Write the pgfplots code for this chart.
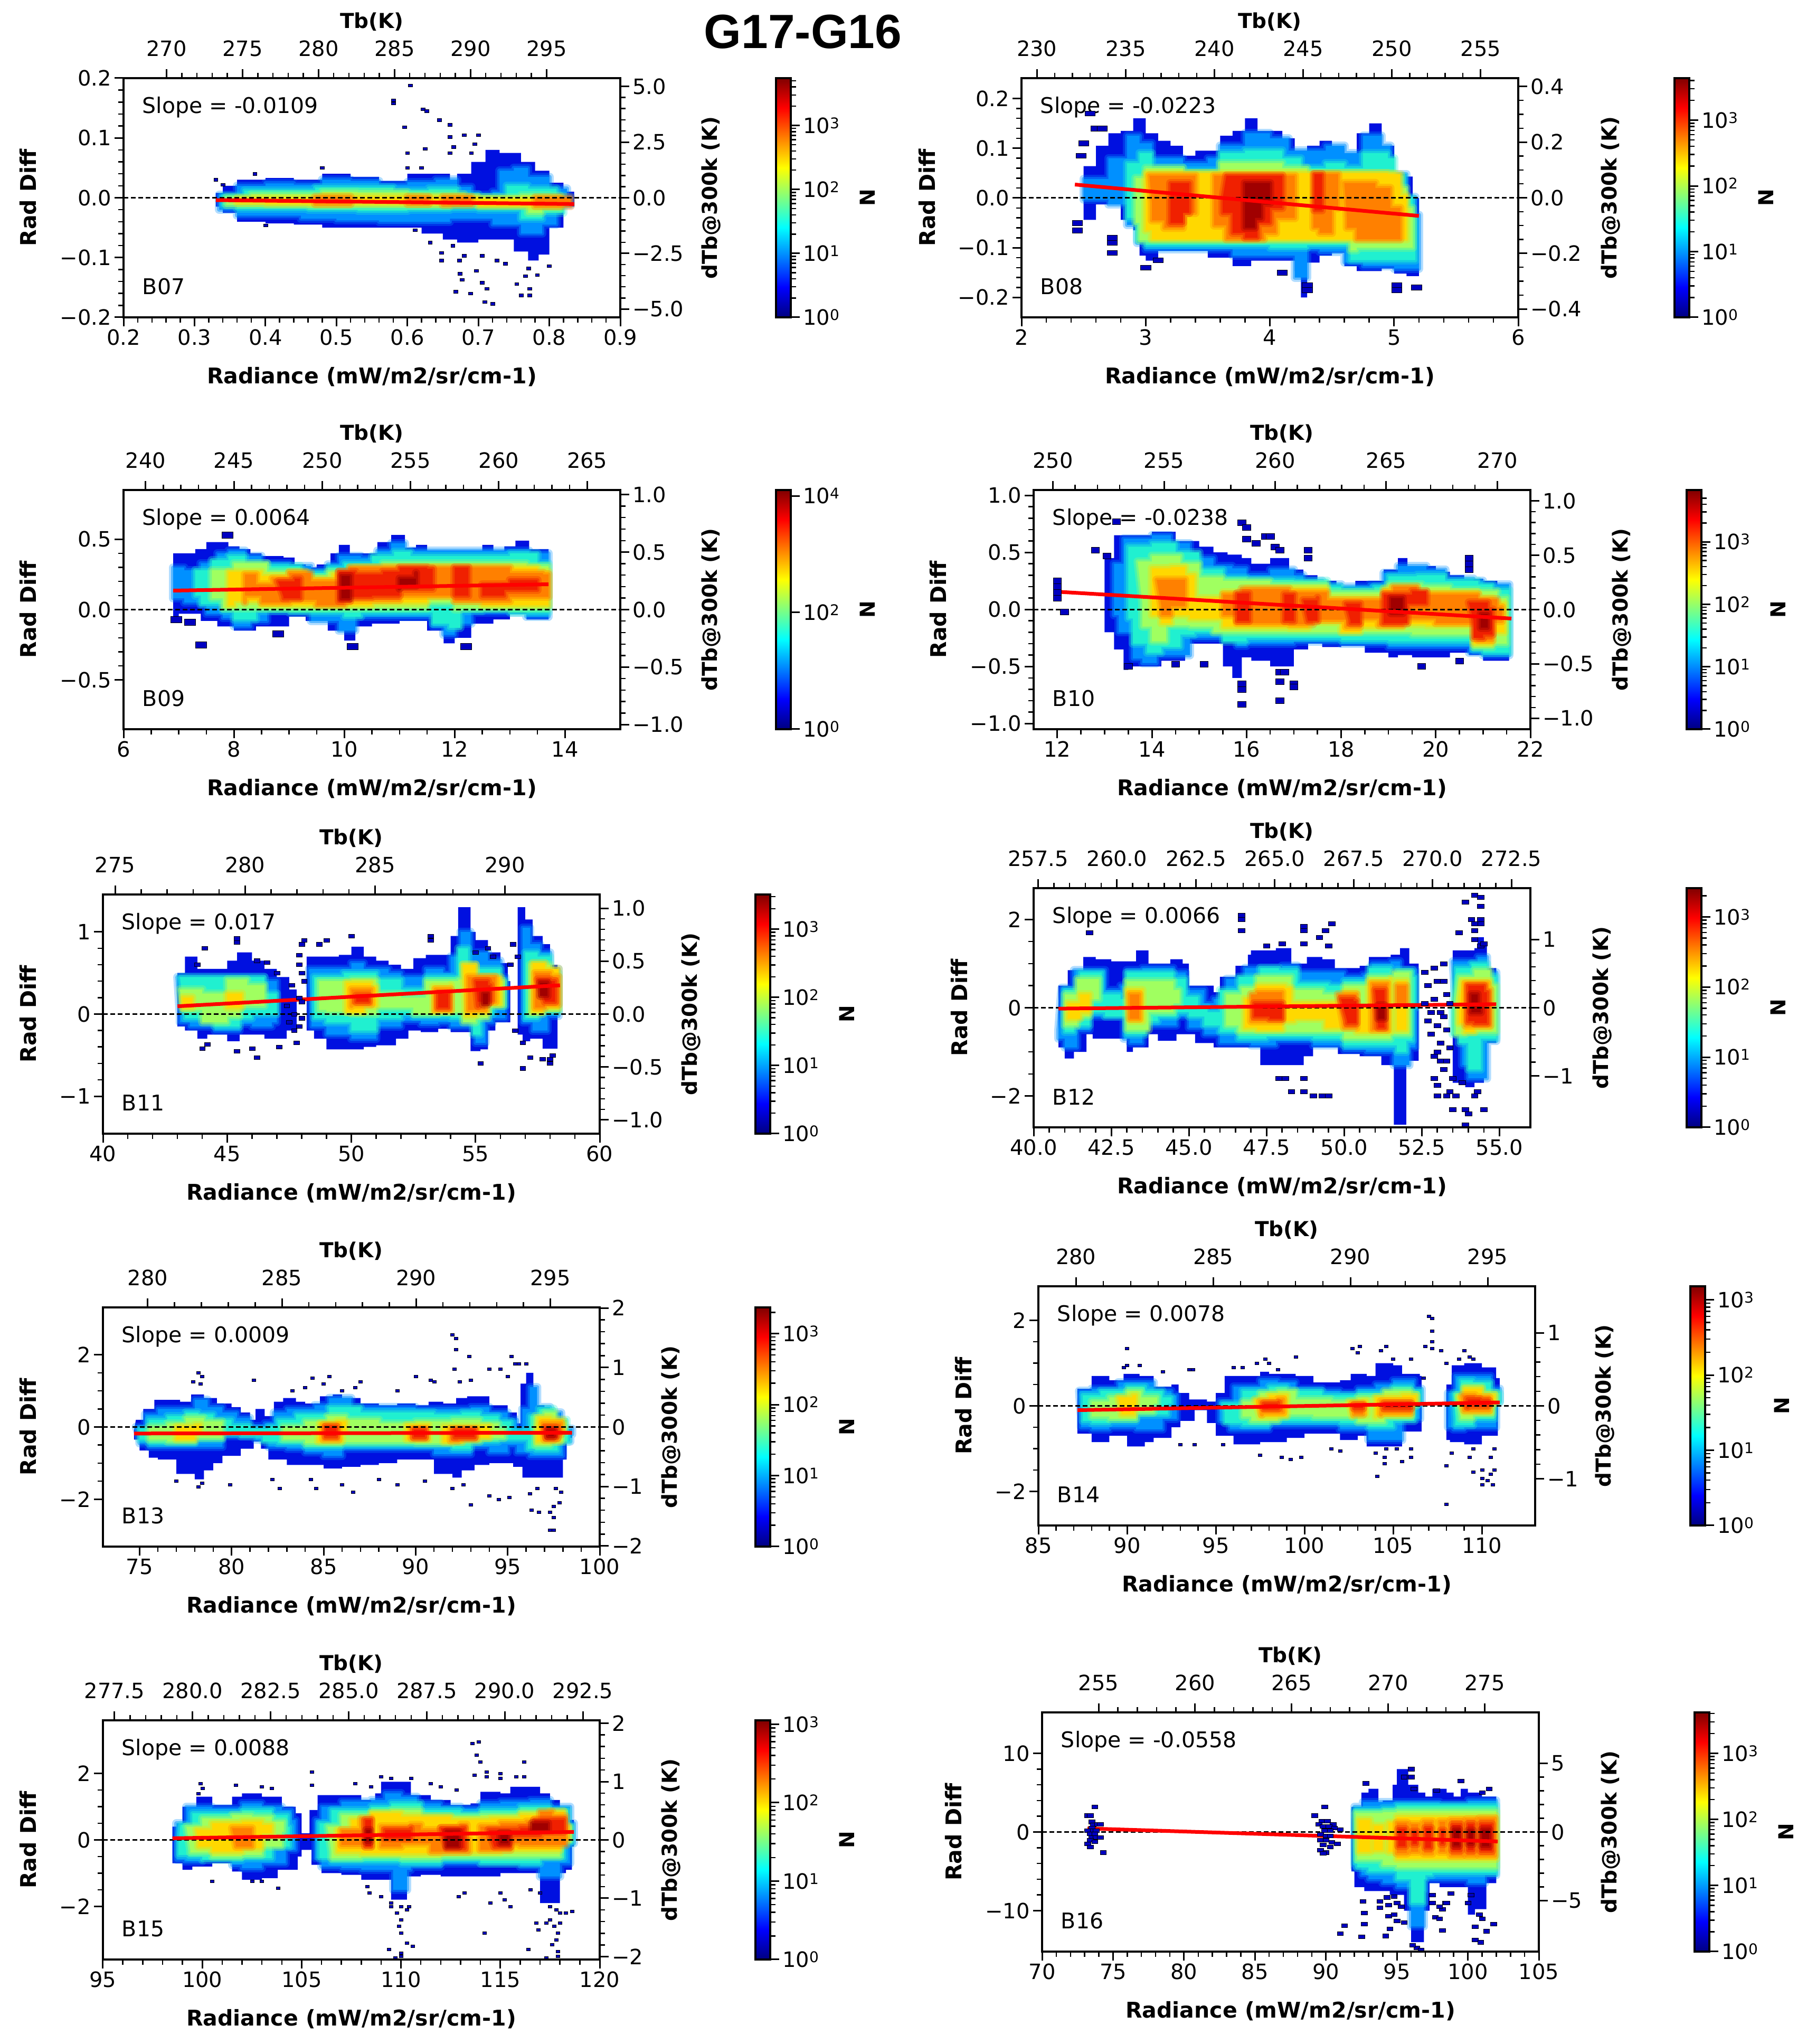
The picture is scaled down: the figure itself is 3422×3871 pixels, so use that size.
\documentclass[border=0pt]{standalone}
\usepackage{fontspec}
\setmainfont{DejaVu Sans}
\newfontfamily\ttl{Liberation Sans}
\usepackage{pgfplots}
\pgfplotsset{compat=1.18}
\newcommand{\fs}{\fontsize{40}{44}\selectfont}
\newcommand{\fl}{\fontsize{41}{45}\selectfont\bfseries}
\newcommand{\ft}{\fontsize{39}{43}\selectfont\bfseries}
\definecolor{c0}{HTML}{0000C0}
\definecolor{c1}{HTML}{0010E0}
\definecolor{c2}{HTML}{0090FF}
\definecolor{c3}{HTML}{20F0D0}
\definecolor{c4}{HTML}{A0FF60}
\definecolor{c5}{HTML}{FFD800}
\definecolor{c6}{HTML}{FF8000}
\definecolor{c7}{HTML}{F02000}
\definecolor{c8}{HTML}{A00000}
\tikzset{h/.style={draw=#1,draw opacity=.3,line width=16pt,line join=round},
  g/.style={fill=#1,draw=#1,draw opacity=.5,line width=8pt,line join=round}}
\pgfplotsset{
  common/.style={scale only axis,width=941pt,height=453pt,anchor=south west,
    axis line style={line width=3.5pt},tick align=outside,
    major tick length=17pt,minor tick length=10pt,
    tick style={black,line width=3pt},minor tick style={line width=2.5pt},
    tick label style={font=\fs,inner sep=6pt},label style={font=\ft},clip=true},
  main/.style={common,xtick pos=lower,ytick pos=lower,xlabel={Radiance (mW/m2/sr/cm-1)},ylabel={Rad Diff},
    xlabel style={at={(axis description cs:.5,-.248)},anchor=center,font=\fl},minor x tick num=4},
  twin/.style={common,xtick pos=upper,ytick pos=upper,xticklabel pos=upper,yticklabel pos=upper,
    xlabel={Tb(K)},ylabel={dTb@300k (K)},minor x tick num=4,xticklabel style={yshift=18pt},
    xlabel style={at={(axis description cs:.5,1.235)},anchor=center}},
  rd/.style={ylabel style={at={(axis description cs:#1,.5)},anchor=center,font=\fl}},
  td/.style={ylabel style={at={(axis description cs:#1,.5)},anchor=center}},
}
\newcommand{\la}[1]{\addplot[const plot,draw=none,fill=c1,forget plot] coordinates {#1};}
\newcommand{\lv}[2]{\addplot[const plot,h=#1,forget plot] coordinates {#2} --cycle;
  \addplot[const plot,g=#1,forget plot] coordinates {#2} --cycle;}
\newcommand{\sk}[3]{\addplot[only marks,mark=square*,mark size=#2pt,mark options={xscale=#1,draw=none,fill=c0},forget plot] coordinates {#3};}
\newcommand{\zf}[4]{\addplot[black,line width=3pt,dash pattern=on 9pt off 5pt,forget plot] coordinates {(#1,0)(#2,0)};
  \addplot[red,line width=7pt,forget plot] coordinates {#3};#4}
\newcommand{\nb}[2]{\node[anchor=west,font=\fontsize{41}{45}\selectfont,inner sep=0pt] at (axis description cs:.038,.878) {#1};
  \node[anchor=west,font=\fontsize{41}{45}\selectfont,inner sep=0pt] at (axis description cs:.038,.128) {#2};}
\newcommand{\cb}[5]{\begin{axis}[common,axis on top,width=28pt,at={(#1pt,3871pt-#2pt)},xmin=0,xmax=1,ymin=0,ymax=#3,
    xtick=\empty,ytick pos=upper,yticklabel pos=upper,ytick={#4},minor ytick={#5},colormap/jet,point meta min=0,point meta max=#3,
    yticklabel={\pgfmathparse{int(\tick)}10\textsuperscript{\pgfmathresult}},ylabel={N},
    ylabel style={at={(axis description cs:6.2,.5)},anchor=center}]
  \addplot[surf,shader=interp,mesh/cols=2,point meta=y,forget plot] coordinates {(0,0)(1,0)(0,#3)(1,#3)};
  \end{axis}}
\newcommand{\cbm}{.301,.477,.602,.699,.778,.845,.903,.954,1.301,1.477,1.602,1.699,1.778,1.845,1.903,1.954,2.301,2.477,2.602,2.699,2.778,2.845,2.903,2.954,3.301,3.477,3.602,3.699}
\begin{document}
\begin{tikzpicture}
\path[use as bounding box] (0,0) rectangle (3422pt,3871pt);
\node[anchor=base,font=\ttl\fontsize{91}{95}\selectfont\bfseries,inner sep=0pt] at (1521pt,3779pt) {G17-G16};
% B07
\begin{axis}[main,rd=-.192,at={(234pt,3871pt-601pt)},xmin=.2,xmax=.9,ymin=-.2,ymax=.2,
  xtick={.2,.3,.4,.5,.6,.7,.8,.9},xticklabels={0.2,0.3,0.4,0.5,0.6,0.7,0.8,0.9},
  ytick={-.2,-.1,0,.1,.2},yticklabels={−0.2,−0.1,0.0,0.1,0.2},minor y tick num=4]
\la{(.33,.008)(.34,.02)(.36,.03)(.40,.033)(.44,.03)(.48,.04)(.52,.035)(.56,.028)(.60,.04)(.63,.04)(.66,.025)(.67,.04)(.69,.06)(.71,.08)(.73,.075)(.76,.06)(.78,.045)(.80,.025)(.82,.01)(.835,0)(.835,-.015)(.82,-.05)(.80,-.095)(.785,-.105)(.77,-.09)(.75,-.07)(.70,-.075)(.67,-.07)(.65,-.06)(.62,-.05)(.58,-.05)(.52,-.05)(.48,-.045)(.44,-.043)(.40,-.04)(.36,-.025)(.34,-.015)(.33,-.005)}
\lv{c2}{(.335,.005)(.36,.02)(.40,.024)(.44,.022)(.48,.03)(.52,.028)(.56,.022)(.60,.026)(.64,.03)(.67,.018)(.69,.005)(.72,.01)(.73,.045)(.75,.05)(.77,.035)(.80,.015)(.825,.002)(.83,-.012)(.81,-.045)(.79,-.06)(.76,-.045)(.72,-.035)(.69,-.035)(.66,-.04)(.62,-.04)(.56,-.038)(.50,-.035)(.45,-.03)(.40,-.03)(.36,-.02)(.335,-.008)}
\lv{c3}{(.34,.003)(.37,.012)(.42,.012)(.47,.017)(.53,.017)(.58,.012)(.63,.015)(.67,.006)(.70,.001)(.74,.02)(.77,.015)(.81,.003)(.82,-.025)(.79,-.035)(.76,-.02)(.70,-.018)(.66,-.02)(.60,-.022)(.53,-.02)(.46,-.018)(.40,-.018)(.36,-.012)(.34,-.006)}
\lv{c4}{(.345,0)(.38,.006)(.43,.006)(.48,.01)(.53,.009)(.60,.006)(.65,.006)(.68,0)(.76,.004)(.80,.003)(.815,-.002)(.815,-.018)(.79,-.025)(.77,-.012)(.70,-.010)(.66,-.014)(.60,-.014)(.52,-.014)(.46,-.012)(.40,-.012)(.345,-.007)}
\lv{c5}{(.36,-.001)(.43,-.001)(.48,.002)(.52,.001)(.62,0)(.68,0)(.70,-.002)(.78,-.001)(.815,-.004)(.815,-.014)(.78,-.014)(.70,-.008)(.66,-.010)(.60,-.009)(.52,-.011)(.47,-.010)(.40,-.008)(.36,-.006)}
\lv{c6}{(.47,.001)(.52,.001)(.52,-.01)(.47,-.01)}
\lv{c6}{(.60,.001)(.63,.001)(.63,-.01)(.60,-.01)}
\lv{c6}{(.65,.001)(.69,.001)(.69,-.012)(.65,-.012)}
\lv{c6}{(.78,0)(.83,0)(.83,-.014)(.78,-.014)}
\sk{1.4}{2.8}{(.604,.188)(.58,.163)(.58,.158)(.622,.148)(.627,.145)(.645,.13)(.66,.122)(.596,.118)(.66,.102)(.625,.082)(.6,.075)(.68,.105)(.70,.105)(.695,.09)(.665,.085)(.66,.075)(.69,.075)(.33,.03)(.34,.022)(.385,.04)(.48,.05)(.60,.05)(.62,.05)(.668,-.157)(.689,-.16)(.709,-.174)(.72,-.177)(.705,-.142)(.712,-.152)(.677,-.137)(.674,-.127)(.697,-.122)(.754,-.144)(.76,-.163)(.772,-.163)(.772,-.152)(.766,-.131)(.783,-.129)(.771,-.118)(.8,-.114)(.738,-.11)(.648,-.105)(.673,-.105)(.68,-.097)(.726,-.105)(.648,-.092)(.664,-.08)(.705,-.097)(.632,-.075)(.611,-.054)(.4,-.046)}
\zf{.2}{.9}{(.33,-.004)(.835,-.0105)}{}
\nb{Slope = -0.0109}{B07}
\end{axis}
\begin{axis}[twin,td=1.183,at={(234pt,3871pt-601pt)},xmin=267.17,xmax=299.85,ymin=-5.37,ymax=5.37,
  xtick={270,275,280,285,290,295},xticklabels={270,275,280,285,290,295},
  ytick={-5,-2.5,0,2.5,5},yticklabels={−5.0,−2.5,0.0,2.5,5.0},minor y tick num=4]\end{axis}
\cb{1470}{601}{3.74}{0,1,2,3}{\cbm}
% B08
\begin{axis}[main,rd=-.19,at={(1935pt,3871pt-601pt)},xmin=2,xmax=6,ymin=-.24,ymax=.241,
  xtick={2,3,4,5,6},xticklabels={2,3,4,5,6},
  ytick={-.2,-.1,0,.1,.2},yticklabels={−0.2,−0.1,0.0,0.1,0.2},minor y tick num=4]
\la{(2.5,.064)(2.6,.105)(2.7,.13)(2.8,.135)(2.9,.16)(3.0,.13)(3.1,.115)(3.2,.105)(3.3,.085)(3.4,.095)(3.5,.095)(3.6,.125)(3.7,.135)(3.8,.16)(3.9,.135)(4.0,.135)(4.1,.12)(4.2,.095)(4.3,.105)(4.4,.115)(4.5,.1)(4.6,.09)(4.7,.13)(4.8,.15)(4.9,.105)(5.0,.048)(5.1,.043)(5.15,0)(5.2,-.03)(5.2,-.157)(5.1,-.152)(5.0,-.142)(4.9,-.147)(4.8,-.147)(4.7,-.137)(4.6,-.11)(4.5,-.116)(4.4,-.13)(4.3,-.20)(4.25,-.147)(4.2,-.126)(4.0,-.126)(3.85,-.137)(3.7,-.12)(3.5,-.106)(3.3,-.106)(3.1,-.126)(3.0,-.116)(2.95,-.065)(2.9,-.044)(2.8,-.008)(2.7,-.013)(2.6,-.044)(2.5,-.03)}
\lv{c2}{(2.5,.038)(2.7,.08)(2.85,.125)(2.95,.11)(3.05,.08)(3.3,.07)(3.5,.08)(3.6,.105)(3.8,.13)(4.0,.12)(4.15,.095)(4.3,.095)(4.45,.105)(4.6,.09)(4.75,.125)(4.9,.105)(4.97,.048)(5.1,.002)(5.17,-.034)(5.2,-.142)(5.0,-.137)(4.75,-.13)(4.6,-.108)(4.4,-.103)(4.3,-.16)(4.2,-.116)(3.9,-.116)(3.7,-.103)(3.0,-.09)(2.93,-.054)(2.85,-.013)(2.7,-.003)(2.5,.007)}
\lv{c3}{(2.85,.07)(2.95,.09)(3.05,.06)(3.3,.055)(3.45,.055)(3.6,.09)(3.8,.095)(4.1,.08)(4.25,.06)(4.45,.07)(4.6,.06)(4.75,.09)(4.95,.08)(5.0,.045)(5.08,0)(5.15,-.04)(5.17,-.125)(5.0,-.125)(4.75,-.125)(4.65,-.095)(4.3,-.1)(4.0,-.095)(3.0,-.085)(2.93,-.04)(2.85,0)}
\lv{c4}{(2.92,.04)(3.0,.06)(3.3,.05)(3.5,.05)(3.6,.07)(4.1,.06)(4.3,.05)(4.9,.05)(5.0,.02)(5.1,-.02)(5.15,-.06)(5.15,-.10)(4.7,-.105)(4.65,-.085)(3.0,-.085)(2.95,-.05)(2.92,-.01)}
\lv{c5}{(3.0,.05)(4.95,.048)(5.05,.005)(5.1,-.04)(5.1,-.083)(4.7,-.083)(3.05,-.065)(3.0,-.03)}
\lv{c6}{(3.03,.045)(3.4,.045)(3.4,-.03)(3.3,-.06)(3.15,-.045)(3.05,-.01)}
\lv{c6}{(3.55,.045)(4.2,.045)(4.2,-.04)(4.05,-.07)(3.95,-.083)(3.8,-.083)(3.65,-.055)(3.55,-.03)}
\lv{c6}{(4.35,.048)(4.45,.048)(4.55,-.02)(4.5,-.07)(4.4,-.06)(4.35,-.02)}
\lv{c6}{(4.6,.03)(4.85,.02)(4.97,-.02)(5.05,-.06)(5.05,-.083)(4.75,-.083)(4.7,-.06)(4.62,-.04)}
\lv{c7}{(3.2,.03)(3.32,.03)(3.35,-.03)(3.3,-.05)(3.2,-.04)}
\lv{c7}{(3.65,.045)(4.08,.045)(4.1,-.02)(4.0,-.05)(3.9,-.08)(3.8,-.07)(3.7,-.03)(3.62,0)}
\lv{c7}{(4.36,.048)(4.42,.048)(4.42,-.025)(4.36,-.025)}
\lv{c8}{(3.8,.03)(3.95,.03)(4.0,-.01)(3.93,-.04)(3.88,-.06)(3.82,-.06)(3.8,-.01)}
\sk{2}{4.8}{(2.45,-.05)(2.45,-.065)(2.73,-.08)(2.73,-.09)(2.73,-.11)(2.55,.17)(2.5,.11)(2.48,.085)(3.0,-.14)(3.1,-.125)(4.1,-.15)(4.3,-.185)(4.3,-.175)(5.02,-.175)(5.02,-.185)(5.18,-.18)(2.6,.14)(2.65,.14)}
\zf{2}{6}{(2.43,.027)(5.2,-.036)}{}
\nb{Slope = -0.0223}{B08}
\end{axis}
\begin{axis}[twin,td=1.186,at={(1935pt,3871pt-601pt)},xmin=229.13,xmax=257.12,ymin=-.43,ymax=.43,
  xtick={230,235,240,245,250,255},xticklabels={230,235,240,245,250,255},
  ytick={-.4,-.2,0,.2,.4},yticklabels={−0.4,−0.2,0.0,0.2,0.4},minor y tick num=3]\end{axis}
\cb{3172}{601}{3.64}{0,1,2,3}{\cbm}
% B09
\begin{axis}[main,rd=-.192,at={(234pt,3871pt-1381pt)},xmin=6,xmax=15,ymin=-.85,ymax=.85,
  xtick={6,8,10,12,14},xticklabels={6,8,10,12,14},minor x tick num=3,
  ytick={-.5,0,.5},yticklabels={−0.5,0.0,0.5},minor y tick num=4]
\la{(6.9,.4)(7.3,.43)(7.5,.48)(7.7,.48)(7.9,.45)(8.1,.43)(8.3,.40)(8.5,.38)(8.9,.37)(9.1,.32)(9.3,.30)(9.5,.32)(9.75,.40)(9.9,.46)(10.1,.40)(10.4,.40)(10.6,.48)(10.85,.53)(11.1,.44)(11.3,.46)(11.5,.42)(12.0,.42)(12.3,.42)(12.5,.46)(12.7,.42)(12.9,.45)(13.1,.49)(13.35,.43)(13.7,.40)(13.7,-.07)(13.3,-.03)(13,-.07)(12.7,-.1)(12.3,-.2)(12,-.24)(11.8,-.15)(11.5,-.08)(11.0,-.1)(10.5,-.12)(10.2,-.22)(10,-.15)(9.7,-.08)(9.3,-.05)(9.0,-.12)(8.75,-.12)(8.4,-.15)(8.0,-.12)(7.7,-.08)(7.4,-.03)(7,-.05)(6.9,-.03)}
\lv{c2}{(6.9,.3)(7.1,.28)(7.4,.33)(7.7,.4)(7.9,.42)(8.2,.38)(8.5,.33)(9,.31)(9.4,.28)(9.7,.32)(9.9,.38)(10.3,.37)(10.6,.42)(10.85,.47)(11.1,.42)(13.35,.40)(13.7,.33)(13.7,-.05)(13.3,-.02)(12.6,-.02)(12.3,-.1)(12,-.18)(11.8,-.12)(11.6,-.05)(10.6,-.05)(10.2,-.15)(9.9,-.08)(9.4,-.01)(8.6,-.08)(8.3,-.12)(8,-.06)(7.8,-.03)(7.5,.03)(7.4,.05)(7.1,.08)(6.9,.09)}
\lv{c3}{(7.3,.28)(7.6,.35)(7.9,.38)(8.2,.33)(8.6,.31)(9.2,.26)(9.7,.3)(10,.33)(10.5,.38)(10.9,.41)(11.2,.38)(11.8,.38)(12.3,.38)(13,.4)(13.5,.33)(13.7,.28)(13.7,-.02)(13,0)(12.5,-.01)(12.1,-.13)(11.9,-.1)(11.6,-.02)(10.3,-.05)(10,-.02)(9,-.01)(8.4,-.07)(8,-.01)(7.8,.04)(7.4,.1)(7.3,.14)}
\lv{c4}{(7.6,.28)(8,.33)(8.6,.27)(9.2,.23)(9.7,.27)(10.2,.3)(10.7,.33)(11.5,.33)(12.5,.33)(13.3,.31)(13.7,.22)(13.7,.01)(12.5,.01)(12.1,0)(12,.05)(11.5,.01)(8.2,.01)(7.8,.08)(7.6,.13)}
\lv{c5}{(7.9,.27)(8.5,.24)(9,.27)(9.3,.22)(9.8,.25)(10.1,.3)(11.5,.3)(12.5,.3)(13.5,.27)(13.7,.18)(13.7,.03)(13,.03)(12.5,.06)(12,.09)(11.5,.05)(10.5,.03)(9,.03)(8.5,.06)(8,.03)(7.9,.08)}
\lv{c6}{(8.2,.25)(8.4,.18)(8.7,.22)(9,.26)(9.4,.2)(9.9,.27)(10.1,.3)(11.5,.3)(12.3,.3)(13,.26)(13.6,.25)(13.7,.18)(13.7,.09)(13,.06)(12,.1)(11,.07)(10,.03)(9.5,.07)(9,.05)(8.5,.1)(8.2,.05)}
\lv{c7}{(8.8,.2)(9.1,.22)(9.2,.08)(8.9,.09)}
\lv{c7}{(9.9,.27)(10.2,.25)(10.7,.27)(11,.3)(11.5,.29)(11.6,.15)(11,.1)(10.5,.09)(10.1,.06)(9.9,.08)}
\lv{c7}{(12.0,.3)(12.25,.3)(12.25,.1)(12,.1)}
\lv{c7}{(12.5,.18)(13.0,.21)(13.5,.2)(13.5,.14)(12.9,.1)(12.5,.12)}
\lv{c8}{(9.95,.24)(10.1,.24)(10.1,.08)(9.95,.08)}
\lv{c8}{(11,.22)(11.3,.26)(11.3,.17)(11,.15)}
\sk{1.75}{6}{(7.88,.53)(7.4,-.25)(10.15,-.26)(12.2,-.26)(8.8,-.17)(7.2,-.09)(6.95,-.07)}
\zf{6}{15}{(6.9,.135)(13.7,.18)}{}
\nb{Slope = 0.0064}{B09}
\end{axis}
\begin{axis}[twin,td=1.183,at={(234pt,3871pt-1381pt)},xmin=238.75,xmax=266.875,ymin=-1.04,ymax=1.04,
  xtick={240,245,250,255,260,265},xticklabels={240,245,250,255,260,265},
  ytick={-1,-.5,0,.5,1},yticklabels={−1.0,−0.5,0.0,0.5,1.0},minor y tick num=4]\end{axis}
\cb{1470}{1381}{4.1}{0,2,4}{}
% B10
\begin{axis}[main,rd=-.192,at={(1958pt,3871pt-1381pt)},xmin=11.5,xmax=22,ymin=-1.05,ymax=1.047,
  xtick={12,14,16,18,20,22},xticklabels={12,14,16,18,20,22},minor x tick num=3,
  ytick={-1,-.5,0,.5,1},yticklabels={−1.0,−0.5,0.0,0.5,1.0},minor y tick num=4]
\la{(13,.45)(13.2,.65)(14,.68)(14.5,.6)(15,.55)(15.3,.5)(15.6,.48)(15.9,.45)(16.1,.4)(16.5,.45)(16.9,.35)(17.2,.3)(17.5,.25)(17.9,.2)(18.3,.25)(18.6,.25)(18.9,.35)(19.2,.45)(19.4,.38)(19.8,.38)(20,.33)(20.3,.3)(20.6,.27)(21,.25)(21.3,.15)(21.55,.1)(21.55,-.45)(21,-.4)(20.7,-.38)(20.3,-.42)(19.8,-.42)(19.5,-.4)(19.2,-.42)(19,-.38)(18.5,-.32)(18,-.33)(17.6,-.3)(17.3,-.35)(17,-.5)(16.8,-.5)(16.5,-.45)(16.1,-.42)(15.9,-.6)(15.7,-.5)(15.5,-.3)(15,-.3)(14.7,-.45)(14.2,-.5)(13.8,-.5)(13.5,-.53)(13.4,-.35)(13.2,-.2)(13,-.13)(13,.3)}
\lv{c2}{(13.2,.4)(13.4,.62)(14,.65)(14.4,.58)(14.8,.45)(15.3,.38)(15.7,.36)(16,.3)(16.5,.35)(17,.3)(17.2,.25)(17.6,.22)(18,.2)(18.6,.22)(18.9,.32)(19.2,.38)(19.8,.35)(20.2,.27)(20.8,.25)(21,.22)(21.55,.08)(21.55,-.4)(21,-.38)(20.7,-.33)(20,-.33)(19.5,-.33)(19,-.3)(18,-.28)(17,-.3)(16.5,-.3)(16,-.32)(15.8,-.25)(15.3,-.25)(14.8,-.4)(14.5,-.4)(14.1,-.47)(13.8,-.43)(13.6,-.2)(13.3,-.05)(13.2,.1)}
\lv{c3}{(13.5,.55)(14,.58)(14.5,.5)(15,.35)(15.5,.28)(16,.26)(17,.25)(17.7,.2)(18,.17)(18.7,.2)(19,.29)(19.6,.3)(20.2,.25)(20.9,.22)(21.2,.17)(21.55,.05)(21.55,-.38)(21,-.35)(20.8,-.28)(19,-.27)(18,-.25)(16,-.28)(15.5,-.2)(14.9,-.22)(14.6,-.33)(14.2,-.38)(13.9,-.3)(13.6,-.08)(13.5,.2)}
\lv{c4}{(13.7,.42)(14,.47)(14.6,.4)(15,.28)(15.5,.25)(16.5,.22)(17.7,.15)(18.5,.15)(19,.22)(19.7,.2)(20.3,.17)(20.9,.16)(21.3,.1)(21.5,0)(21.5,-.3)(21.2,-.33)(20.8,-.22)(19.5,-.2)(18,-.2)(17,-.2)(16,-.2)(15.3,-.15)(14.8,-.14)(14.3,-.28)(14,-.15)(13.8,.05)}
\lv{c5}{(14,.36)(14.4,.37)(14.7,.3)(14.9,.1)(15.5,.15)(16,.18)(17.7,.1)(18.3,.1)(18.9,.18)(19.6,.15)(20.9,.1)(21.2,.05)(21.45,-.05)(21.45,-.2)(21.2,-.3)(20.8,-.14)(19.8,-.13)(19.3,-.15)(18.8,-.15)(18.4,-.2)(18,-.11)(17.3,-.16)(16.9,-.15)(16,-.15)(15.5,-.08)(14.8,-.05)(14.4,-.12)(14.2,-.05)(14,.1)}
\lv{c6}{(14.1,.26)(14.7,.26)(14.7,.03)(14.4,-.05)(14.2,.03)}
\lv{c6}{(15.5,.13)(15.9,.18)(16.9,.15)(17.7,.08)(18.9,.15)(19.1,.2)(19.6,.13)(20.9,.09)(21.3,.02)(21.4,-.1)(21.2,-.27)(20.9,-.12)(20,-.08)(19.3,-.14)(18.8,-.08)(18.4,-.15)(18.1,-.09)(17.4,-.13)(16.9,-.12)(16.1,-.12)(15.8,-.05)(15.5,0)}
\lv{c7}{(15.8,.14)(16.05,.14)(16.05,-.1)(15.8,-.08)}
\lv{c7}{(16.8,.13)(17,.13)(17,-.1)(16.8,-.06)}
\lv{c7}{(17.2,.08)(17.5,.1)(17.5,-.1)(17.3,-.1)}
\lv{c7}{(18.1,.05)(18.4,.05)(18.4,-.12)(18.2,-.1)}
\lv{c7}{(18.9,.13)(19.5,.16)(19.8,.05)(19.4,-.12)(19.1,-.12)(18.9,-.05)}
\lv{c7}{(20.7,.06)(21.1,0)(21.2,-.22)(21,-.25)(20.8,-.1)}
\lv{c8}{(19.05,.1)(19.3,.1)(19.3,-.03)(19.05,-.03)}
\lv{c8}{(20.95,-.04)(21.1,-.04)(21.1,-.16)(20.95,-.16)}
\sk{1.4}{5.5}{(12,.25)(12,.2)(12,.15)(12,.1)(12.15,-.02)(12.8,.52)(13.05,.47)(13.25,.77)(15.9,.76)(16,.72)(16,.62)(16.2,.58)(16.4,.64)(16.5,.64)(17.3,.52)(17.3,.45)(16.6,.55)(16.7,.52)(20.7,.45)(20.7,.4)(20.7,.35)(15.1,-.48)(15.9,-.65)(15.9,-.7)(15.9,-.83)(16.7,-.55)(16.8,-.55)(16.7,-.63)(17,-.65)(17,-.68)(16.7,-.8)(19.7,-.5)(20.5,-.45)(14.5,-.48)(13.5,-.5)}
\zf{11.5}{22}{(12,.155)(21.6,-.08)}{}
\nb{Slope = -0.0238}{B10}
\end{axis}
\begin{axis}[twin,td=1.184,at={(1958pt,3871pt-1381pt)},xmin=249.13,xmax=271.49,ymin=-1.1,ymax=1.1,
  xtick={250,255,260,265,270},xticklabels={250,255,260,265,270},
  ytick={-1,-.5,0,.5,1},yticklabels={−1.0,−0.5,0.0,0.5,1.0},minor y tick num=4]\end{axis}
\cb{3195}{1381}{3.83}{0,1,2,3}{\cbm}
% B11
\begin{axis}[main,rd=-.151,at={(195pt,3871pt-2147pt)},xmin=40,xmax=60,ymin=-1.455,ymax=1.455,
  xtick={40,45,50,55,60},xticklabels={40,45,50,55,60},
  ytick={-1,0,1},yticklabels={−1,0,1},minor y tick num=4]
\la{(43,.5)(43.3,.7)(43.8,.55)(44.5,.55)(45,.65)(45.4,.75)(46,.65)(46.5,.55)(47,.45)(47.5,.3)(47.8,.2)(47.8,-.2)(47.4,-.3)(46.5,-.25)(45.8,-.25)(45.5,-.33)(45,-.25)(44.2,-.3)(43.8,-.2)(43.3,-.15)(43,-.05)}
\la{(48.2,.7)(49,.7)(49.5,.72)(50,.82)(50.5,.7)(51,.65)(51.5,.6)(52,.55)(52.5,.68)(53,.72)(53.7,.72)(54,.95)(54.3,1.3)(54.7,1.3)(54.8,1.0)(55,.9)(55.5,.75)(56,.62)(56.3,.4)(56.4,-.1)(55.8,-.2)(55.5,-.43)(55.2,-.45)(54.8,-.22)(54,-.18)(53.5,-.22)(52.8,-.2)(52.3,-.3)(51.8,-.38)(51,-.4)(50.5,-.43)(49.5,-.43)(49,-.3)(48.5,-.2)(48.2,-.1)}
\la{(56.7,1.3)(57,1.15)(57.3,.95)(57.7,.85)(58,.6)(58.3,.4)(58.4,0)(58.3,-.42)(58,-.42)(57.7,-.3)(57.2,-.33)(56.9,-.25)(56.7,-.05)}
\lv{c2}{(43,.45)(44,.45)(46,.45)(46.5,.4)(47,.25)(47,-.1)(46.8,-.15)(46,-.12)(45.5,-.2)(44.5,-.15)(43.5,-.1)(43.1,-.02)}
\lv{c2}{(48.3,.55)(50,.62)(50.5,.55)(51.5,.5)(52,.45)(53,.55)(53.7,.5)(54,.7)(54.4,1.0)(54.8,.75)(55.5,.65)(56,.45)(56.2,.3)(56.2,-.05)(55.7,-.1)(55.4,-.35)(55,-.15)(54,-.1)(53.5,-.12)(52.8,-.08)(52,-.15)(51,-.3)(50,-.25)(49,-.15)(48.4,-.05)}
\lv{c2}{(56.9,1.05)(57.2,.85)(57.6,.75)(58,.55)(58.35,.2)(58.35,-.02)(57.9,-.2)(57.3,-.1)(56.9,.05)}
\lv{c3}{(43.1,.45)(46,.45)(46.5,.25)(47,0)(46,-.05)(45.5,-.15)(44.5,-.05)(43.3,-.02)}
\lv{c3}{(48.5,.45)(49.7,.5)(51,.42)(52,.3)(53,.45)(54,.45)(54.3,.8)(54.7,.55)(55.5,.55)(56,.4)(56.2,.1)(55.7,0)(55.2,-.25)(54.9,-.05)(54,-.03)(52.5,0)(52,-.05)(51,-.2)(50,-.1)(49,-.05)(48.5,0)}
\lv{c3}{(57,.75)(57.5,.7)(58,.5)(58.35,.25)(58.35,.03)(57.5,-.05)(57,.1)}
\lv{c4}{(43.1,.3)(44,.25)(45,.42)(45.8,.35)(46.5,.1)(45.5,-.03)(45,-.1)(44,.05)(43.2,.05)}
\lv{c4}{(48.7,.4)(50,.42)(51,.25)(52,.2)(53,.4)(54.3,.42)(54.5,.6)(55,.45)(55.8,.4)(56.1,.3)(56.1,.1)(55.5,-.05)(55,-.1)(54.5,.02)(53.5,0)(52.5,.08)(51,0)(50,.03)(49,.05)(48.7,.1)}
\lv{c4}{(57.2,.6)(57.7,.6)(58,.45)(58.35,.3)(58.35,.05)(57.7,0)(57.2,.15)}
\lv{c5}{(45,.25)(45.6,.25)(45.6,.08)(45,.08)}
\lv{c5}{(43.2,.2)(43.6,.2)(43.6,.08)(43.2,.08)}
\lv{c5}{(49.8,.38)(50.8,.33)(51,.1)(50.5,.02)(49.8,.1)}
\lv{c5}{(53.3,.33)(54,.35)(54,.03)(53.3,.03)}
\lv{c5}{(54.5,.6)(55,.45)(56,.42)(56,.12)(55.5,.02)(55,-.02)(54.6,.1)}
\lv{c5}{(57.3,.62)(57.8,.55)(58.35,.35)(58.35,.08)(57.7,.03)(57.3,.2)}
\lv{c6}{(50,.3)(50.8,.28)(50.8,.12)(50,.1)}
\lv{c6}{(53.4,.3)(54,.3)(54,.05)(53.4,.05)}
\lv{c6}{(54.7,.45)(55.8,.4)(55.8,.15)(55.4,.05)(55,.05)(54.7,.2)}
\lv{c6}{(57.4,.5)(58,.45)(58.35,.3)(58.35,.12)(57.8,.08)(57.4,.25)}
\lv{c7}{(50.2,.22)(50.7,.22)(50.7,.15)(50.2,.15)}
\lv{c7}{(53.5,.25)(53.9,.25)(53.9,.08)(53.5,.08)}
\lv{c7}{(55,.4)(55.5,.35)(55.6,.15)(55.1,.1)}
\lv{c7}{(57.5,.42)(58,.4)(58.2,.15)(57.8,.15)}
\lv{c8}{(57.6,.38)(57.9,.38)(57.9,.22)(57.6,.22)}
\lv{c8}{(55.3,.25)(55.5,.25)(55.5,.12)(55.3,.12)}
\sk{1.5}{3.6}{(47.9,.72)(47.9,.6)(48,.85)(48.1,.9)(48,.5)(48.1,.4)(47.6,.35)(47.9,.2)(48,-.05)(47.9,-.15)(47.7,-.2)(47.8,-.35)(47.1,-.4)(46.2,-.53)(45.4,-.45)(46,-.42)(44,-.42)(44.2,-.37)(43.8,.6)(44.1,.8)(45.4,.87)(45.4,.92)(46.2,.65)(46.6,.63)(47,.5)(50,.95)(49,.9)(48.7,.85)(53.2,.95)(53.2,.9)(55,.75)(55.2,-.6)(56.9,-.66)(57.7,-.55)(57.2,-.53)(58,-.55)(58,-.6)(58.1,-.5)(55.5,.8)(55.7,.7)(56.5,.85)(56.7,.7)(56.4,.6)(56.6,-.2)(56.9,-.35)(47.4,.1)(47.7,0)(48,.15)(47.5,-.1)}
\zf{40}{60}{(43,.095)(58.4,.35)}{}
\nb{Slope = 0.017}{B11}
\end{axis}
\begin{axis}[twin,td=1.184,at={(195pt,3871pt-2147pt)},xmin=274.53,xmax=293.65,ymin=-1.13,ymax=1.13,
  xtick={275,280,285,290},xticklabels={275,280,285,290},
  ytick={-1,-.5,0,.5,1},yticklabels={−1.0,−0.5,0.0,0.5,1.0},minor y tick num=4]\end{axis}
\cb{1431}{2147}{3.51}{0,1,2,3}{\cbm}
% B12
\begin{axis}[main,rd=-.15,at={(1958pt,3871pt-2135pt)},xmin=40,xmax=56,ymin=-2.71,ymax=2.71,
  xtick={40,42.5,45,47.5,50,52.5,55},xticklabels={40.0,42.5,45.0,47.5,50.0,52.5,55.0},
  ytick={-2,0,2},yticklabels={−2,0,2},minor y tick num=3]
\la{(40.8,.5)(41.1,.85)(41.6,1.15)(42,1.1)(42.5,1.05)(43,1.05)(43.3,1.3)(43.7,1.0)(44.4,1.1)(44.8,1.0)(45,.5)(45.8,.35)(46,.7)(46.5,.95)(46.9,1.2)(47,1.3)(47.8,1.35)(48.3,1.0)(48.8,1.15)(49.3,1.1)(49.7,.9)(50.5,.95)(50.8,1.15)(51.5,1.2)(51.8,1.35)(52.1,1.0)(52.4,.9)(52.4,-1.2)(52,-2.65)(51.8,-2.65)(51.6,-1.3)(51.2,-1.1)(50.5,-1.05)(49.8,-.9)(49,-1.1)(48.7,-1.3)(48,-1.3)(47.6,-1.3)(47.3,-.9)(46.4,-.9)(45.8,-.8)(45.2,-.6)(44.6,-.75)(44,-.6)(43.7,-.9)(43.2,-1.0)(43,-.7)(42.3,-.7)(41.9,-.6)(41.7,-1.0)(41.3,-1.15)(41,-.9)(40.8,-.7)}
\la{(53.5,1.3)(54.2,1.35)(54.3,1.6)(54.5,1.5)(54.6,.9)(54.9,.5)(54.9,-.8)(54.5,-1.7)(54.2,-1.8)(53.9,-1.7)(53.5,-1.2)}
\lv{c2}{(40.9,.45)(41.3,.85)(41.9,.85)(42.3,.4)(42.8,.5)(43,.85)(43.5,.9)(44.5,.8)(44.9,.4)(45.5,.1)(45.8,.2)(46.2,.65)(46.8,.9)(48,.95)(48.5,.8)(49,.8)(50,.7)(50.6,.75)(50.9,1.0)(51.5,1.05)(51.8,.85)(52.3,.8)(52.3,-.9)(52.1,-1.3)(51.8,-1.3)(51.6,-1)(50.7,-.95)(50,-.85)(49,-.75)(47.8,-.85)(47,-.8)(46,-.6)(45.5,-.45)(45,-.2)(44.6,-.4)(44,-.4)(43.5,-.8)(43.1,-.7)(42.9,-.2)(42.3,-.2)(41.8,-.5)(41.4,-.9)(41,-.7)(40.8,-.5)}
\lv{c2}{(53.5,1.05)(54.3,1.15)(54.6,.8)(54.9,.5)(54.9,-.75)(54.6,-1.6)(54.2,-1.6)(54,-1.3)(53.8,-.6)(53.6,0)}
\lv{c3}{(41,.4)(41.5,.8)(41.9,.8)(42.2,.3)(42.8,.2)(43,.8)(43.5,.8)(44.5,.65)(44.9,.25)(45.3,0)(45.6,-.1)(46,.4)(46.6,.7)(47.3,.9)(47.9,.85)(48.5,.55)(49.5,.5)(50,.6)(50.8,.9)(51.5,.75)(51.7,.85)(52.2,.7)(52.3,0)(52.2,-.75)(52,-1.0)(51.7,-.85)(50.8,-.85)(50,-.7)(49,-.65)(47.5,-.7)(46.6,-.55)(46,-.4)(45.5,-.2)(45,-.1)(44.6,-.2)(44,-.3)(43.6,-.6)(43.1,-.6)(43,-.2)(42.3,-.1)(41.8,-.4)(41.3,-.55)(41,-.5)}
\lv{c3}{(53.6,.9)(54.1,1)(54.6,.7)(54.9,.4)(54.9,-.7)(54.4,-.8)(54.4,-1.4)(54,-1.4)(54,-.8)(53.7,-.6)(53.5,0)}
\lv{c4}{(41,.3)(41.4,.65)(41.9,.65)(42.1,.2)(41.8,-.2)(41.4,-.4)(41,-.35)}
\lv{c4}{(43,.6)(43.6,.6)(44.5,.4)(44.7,.1)(44.5,-.1)(43.7,-.5)(43.1,-.5)(43,-.1)}
\lv{c4}{(46.2,.3)(46.7,.45)(47.2,.7)(48,.7)(48.3,.4)(49.3,.3)(50,.5)(50.8,.7)(51.6,.8)(52.1,.6)(52.1,-.6)(51.7,-.6)(51.5,-.7)(50.8,-.7)(50,-.55)(47.3,-.55)(46.6,-.4)(46.2,-.1)}
\lv{c4}{(53.7,.7)(54.2,.85)(54.7,.5)(54.9,.2)(54.9,-.55)(53.9,-.6)(53.6,-.3)(53.6,.2)}
\lv{c5}{(41.1,.1)(41.5,.3)(41.8,.2)(41.8,-.1)(41.5,-.25)(41.1,-.15)}
\lv{c5}{(43,.4)(43.5,.4)(43.5,-.3)(43.1,-.3)}
\lv{c5}{(46.8,.2)(47.2,.5)(48.1,.45)(48.3,.1)(49.4,.1)(50,.35)(50.4,.3)(50.4,0)(50.8,.6)(51.5,.65)(51.5,-.55)(50.9,-.55)(50.4,-.45)(50,-.45)(49.4,-.25)(48.4,-.3)(48,-.5)(47.2,-.45)(46.8,-.2)}
\lv{c5}{(51.7,.6)(52,.6)(52,-.5)(51.7,-.5)}
\lv{c5}{(53.8,.6)(54.5,.6)(54.7,.3)(54.7,-.45)(54.2,-.55)(53.9,-.35)(53.7,0)}
\lv{c6}{(43.1,.3)(43.4,.3)(43.4,-.25)(43.1,-.25)}
\lv{c6}{(47,.3)(47.2,.35)(48,.3)(48,-.3)(47.3,-.3)(47,-.1)}
\lv{c6}{(49.8,.3)(50.4,.3)(50.4,-.45)(50,-.45)}
\lv{c6}{(50.9,.55)(51.4,.55)(51.4,-.5)(51,-.5)(50.9,-.1)}
\lv{c6}{(51.7,.5)(52,.5)(52,.1)(51.7,.1)}
\lv{c6}{(53.9,.55)(54.6,.4)(54.7,.1)(54.7,-.4)(54,-.4)(53.9,0)}
\lv{c7}{(47.1,.1)(48,.1)(48,-.25)(47.6,-.2)(47.1,-.05)}
\lv{c7}{(49.9,.2)(50.3,.15)(50.4,-.35)(50.1,-.3)}
\lv{c7}{(51,.4)(51.3,.35)(51.3,-.45)(51.1,-.45)}
\lv{c7}{(54,.5)(54.5,.35)(54.6,-.35)(54.2,-.3)(54,0)}
\lv{c8}{(54.1,.3)(54.3,.3)(54.3,.1)(54.1,.1)}
\lv{c8}{(54.1,-.02)(54.4,-.02)(54.4,-.1)(54.1,-.1)}
\lv{c8}{(51.1,.05)(51.3,.05)(51.3,-.25)(51.1,-.25)}
\sk{1.6}{4}{(46.7,2.1)(46.7,2.0)(46.7,1.75)(41.8,1.7)(48.7,1.85)(48.7,1.75)(49.6,1.9)(49.4,1.75)(49.2,1.6)(49.5,1.4)(48.7,1.45)(48,1.45)(47.5,1.4)(54.2,2.55)(54.4,2.5)(53.9,2.4)(54.4,2.3)(54.4,2.0)(54.4,1.9)(54.1,2.0)(54.2,1.75)(54.4,1.4)(53.7,1.7)(54.2,1.55)(54.5,1.45)(54.2,1.9)(47.9,-1.6)(48.1,-1.6)(48.7,-1.6)(48.3,-1.9)(48.7,-1.9)(49,-2)(49.3,-2)(49.5,-2)(53,-2)(53.3,-2)(53.6,-2)(53.5,-2.3)(53.9,-2.3)(54,-2.4)(53.4,-1.9)(53.8,-1.7)(52.9,-1.6)(53,-1.75)(53.2,-1.4)(53.1,-1.2)(53.5,-1.6)(54.2,-2)(54.3,-1.9)(54.5,-2.3)(53.9,-2.65)(52.6,.8)(52.9,.9)(53.2,1)(53,.6)(52.7,.5)(52.9,.2)(53.3,.3)(52.6,.1)(53.1,-.1)(53.4,.1)(52.7,-.3)(53,-.4)(53.3,-.5)(52.8,-.6)(53.1,-.8)(53.4,-.9)(53,-1)(53.3,-1.2)(52.9,-1.1)(53.2,.6)(52.8,-.1)(53.2,-.2)}
\zf{40}{56}{(40.8,-.02)(54.9,.08)}{}
\nb{Slope = 0.0066}{B12}
\end{axis}
\begin{axis}[twin,td=1.145,at={(1958pt,3871pt-2135pt)},xmin=257.36,xmax=273.1,ymin=-1.755,ymax=1.755,
  xtick={257.5,260,262.5,265,267.5,270,272.5},xticklabels={257.5,260.0,262.5,265.0,267.5,270.0,272.5},
  ytick={-1,0,1},yticklabels={−1,0,1},minor y tick num=4]\end{axis}
\cb{3195}{2135}{3.41}{0,1,2,3}{\cbm}
% B13
\begin{axis}[main,rd=-.151,at={(195pt,3871pt-2929pt)},xmin=73.01,xmax=100,ymin=-3.31,ymax=3.31,
  xtick={75,80,85,90,95,100},xticklabels={75,80,85,90,95,100},
  ytick={-2,0,2},yticklabels={−2,0,2},minor y tick num=3]
\la{(74.8,.2)(75.2,.5)(75.8,.75)(76.5,.75)(77.2,.7)(77.8,.9)(78.5,.8)(79.2,.65)(80,.55)(80.5,.4)(81,.2)(81.3,.5)(81.8,.3)(82.3,.7)(82.8,.8)(83.5,.7)(84,.65)(84.8,.85)(85.5,.9)(86,.8)(87,.65)(88,.6)(89,.65)(90,.6)(90.7,.7)(91.5,.65)(92.2,.8)(92.8,.85)(94,.6)(95,.4)(95.5,.1)(95.7,1.2)(96,1.5)(96.4,.6)(97,.5)(97.5,.15)(98,-.1)(98.5,-.1)(98.5,-.3)(98.2,-.9)(98,-1.4)(97.3,-1.4)(96.5,-1.4)(95.8,-1.1)(95.3,-1.0)(94.5,-1)(94,-1.05)(93.2,-1.2)(92.5,-1.4)(92,-1.3)(91,-.9)(90,-.9)(89,-1)(88,-1.05)(87,-1.1)(86,-1.15)(85,-1.05)(84,-1.05)(83,-.9)(82,-.6)(81.6,-.4)(81.2,-.6)(80.5,-.8)(79.5,-1)(79,-1.2)(78.5,-1.45)(78,-1.3)(77,-.9)(76,-.85)(75.5,-.65)(75,-.35)(74.7,-.1)}
\lv{c2}{(74.8,0)(75.3,.35)(76,.5)(77,.5)(78,.75)(78.7,.55)(79.5,.4)(80.3,.25)(81,.02)(81.8,.1)(82.3,.4)(83,.5)(84.5,.6)(85.3,.8)(86.5,.55)(88,.55)(90,.5)(92,.5)(93,.55)(94,.4)(95,.2)(95.5,-.1)(95.8,.5)(96.2,1.1)(96.6,.55)(97.3,.4)(97.9,-.05)(98.5,-.2)(98.4,-.4)(98,-.8)(97,-.8)(96.2,-.7)(95.5,-.5)(95,-.7)(94,-.55)(93,-.75)(92,-.75)(91,-.6)(90,-.6)(88,-.6)(86,-.8)(85,-.7)(84,-.6)(83,-.55)(82,-.35)(81.3,-.25)(80.5,-.25)(79.5,-.55)(78.5,-.55)(77.5,-.55)(76.5,-.55)(75.5,-.45)(75,-.25)}
\lv{c3}{(75,-.05)(75.5,.2)(76.5,.3)(77.5,.4)(78.2,.35)(79,.2)(80,.05)(81,-.05)(82,0)(82.5,.2)(83.5,.35)(85.3,.55)(87,.4)(89,.4)(91,.35)(92.5,.4)(93.5,.3)(94.5,.15)(95.2,-.1)(96.2,.3)(96.7,.5)(97.5,.2)(98.2,-.15)(98.3,-.4)(97.7,-.65)(96.5,-.6)(96.1,-.35)(95.3,-.35)(94.5,-.4)(93,-.6)(92,-.5)(90,-.5)(88,-.5)(86,-.55)(85,-.55)(84,-.45)(82.5,-.4)(81.7,-.25)(80.5,-.2)(79.5,-.35)(78,-.45)(76.5,-.45)(75.5,-.35)(75,-.2)}
\lv{c4}{(75.5,0)(76.5,.1)(77.5,.25)(78.5,.15)(79.5,0)(79.5,-.3)(78,-.4)(76.5,-.35)(75.5,-.25)}
\lv{c4}{(82.8,0)(84,.15)(85.2,.3)(86.2,.2)(88,.1)(90,.15)(92,.2)(93.5,.1)(94.5,-.05)(94.8,-.3)(93.5,-.4)(92,-.45)(90,-.42)(88,-.42)(86,-.45)(84,-.35)(82.8,-.25)}
\lv{c4}{(96.5,.3)(97,.4)(97.6,.1)(98.1,-.15)(98,-.4)(97.3,-.5)(96.5,-.4)}
\lv{c5}{(77,0)(78,.05)(78.3,-.1)(78,-.35)(77,-.3)}
\lv{c5}{(84.8,.1)(85.7,.15)(86.2,-.1)(86,-.4)(84.7,-.3)}
\lv{c5}{(89.5,.05)(90.7,.05)(90.7,-.35)(89.5,-.35)}
\lv{c5}{(91.5,0)(93.5,.02)(94,-.3)(92.5,-.42)(91.5,-.3)}
\lv{c5}{(96.7,.25)(97.3,.2)(98,-.1)(97.8,-.4)(96.9,-.4)(96.6,-.1)}
\lv{c6}{(85,.05)(85.8,.05)(85.8,-.35)(85,-.3)}
\lv{c6}{(89.8,-.05)(90.6,-.05)(90.6,-.32)(89.8,-.32)}
\lv{c6}{(91.9,-.05)(93.3,-.05)(93.3,-.33)(92.3,-.38)(91.9,-.3)}
\lv{c6}{(96.9,.1)(97.4,.1)(97.9,-.2)(97.5,-.35)(97,-.3)}
\lv{c7}{(85.1,0)(85.7,0)(85.7,-.25)(85.1,-.25)}
\lv{c7}{(89.9,-.08)(90.5,-.08)(90.5,-.28)(89.9,-.28)}
\lv{c7}{(92.1,-.08)(93.2,-.08)(93.2,-.28)(92.1,-.28)}
\lv{c7}{(97,-.02)(97.6,-.05)(97.7,-.3)(97.1,-.3)}
\lv{c8}{(97.2,-.1)(97.5,-.1)(97.5,-.25)(97.2,-.25)}
\sk{1.4}{2.5}{(92,2.55)(92.2,2.45)(92.2,2.15)(92.9,1.95)(95.2,1.95)(95.4,1.75)(96,1.75)(95.6,1.75)(92.1,1.6)(92.4,1.25)(93,1.3)(94,1.6)(94.6,1.6)(95,1.4)(90,1.4)(90.8,1.3)(91,1.25)(78.2,1.5)(78.4,1.4)(77.9,1.25)(78.3,1.2)(81.2,1.3)(85.3,1.4)(84.4,1.35)(85,1.2)(87,1.25)(86.7,1.1)(86,1.0)(89,1.0)(83.3,1.0)(84,1.1)(93,-2.15)(94,-1.9)(94.5,-2)(95.1,-1.95)(96.2,-1.85)(97.8,-2.1)(97.5,-2.2)(96.3,-2.3)(96.7,-2.35)(97.3,-2.35)(97.5,-2.5)(97.5,-2.85)(97.3,-2.85)(97.9,-1.8)(97.6,-1.7)(96.6,-1.7)(92,-1.7)(92.6,-1.6)(79.9,-1.6)(78.2,-1.65)(78.4,-1.55)(82.6,-1.7)(82.2,-1.45)(84.6,-1.7)(84.3,-1.45)(86.6,-1.8)(86,-1.6)(89,-1.6)(88,-1.45)(77,-1.5)(90.5,-1.5)}
\zf{73.01}{100}{(74.7,-.18)(98.5,-.16)}{}
\nb{Slope = 0.0009}{B13}
\end{axis}
\begin{axis}[twin,td=1.143,at={(195pt,3871pt-2929pt)},xmin=278.33,xmax=296.84,ymin=-2.01,ymax=2.01,
  xtick={280,285,290,295},xticklabels={280,285,290,295},
  ytick={-2,-1,0,1,2},yticklabels={−2,−1,0,1,2},minor y tick num=4]\end{axis}
\cb{1431}{2929}{3.37}{0,1,2,3}{\cbm}
% B14
\begin{axis}[main,rd=-.151,at={(1967pt,3871pt-2889pt)},xmin=85,xmax=113,ymin=-2.8,ymax=2.8,
  xtick={85,90,95,100,105,110},xticklabels={85,90,95,100,105,110},
  ytick={-2,0,2},yticklabels={−2,0,2},minor y tick num=3]
\la{(87.2,.4)(88,.7)(89,.6)(89.8,.75)(90.7,.7)(91.5,.45)(92.5,.5)(92.9,.3)(93.5,.15)(94.5,.1)(95,.3)(95.5,.7)(96.5,.7)(97.5,.8)(98,.75)(99.5,.7)(100.5,.55)(101.5,.55)(102,.6)(102.6,.75)(103.5,.7)(104,1.0)(105,.95)(105.5,.75)(106.5,.7)(106.6,-.6)(105.5,-.95)(104.5,-.95)(103.5,-.7)(103,-.8)(102,-.65)(100,-.75)(99,-.85)(97.5,-.9)(96,-.7)(95,-.4)(94.5,-.1)(93.8,-.35)(93,-.5)(92.5,-.75)(91.5,-.85)(91,-.95)(90,-.7)(89,-.85)(88,-.65)(87.2,-.3)}
\la{(108,.5)(108.3,.95)(109,1.0)(110,.9)(110.8,.65)(111,.1)(110.9,-.7)(110,-.9)(109,-.85)(108.2,-.8)(108,-.3)}
\lv{c2}{(87.3,.35)(88,.4)(89.5,.55)(90.5,.55)(91.5,.35)(92.5,.25)(92.8,.05)(92.8,-.3)(92,-.55)(90.5,-.5)(89,-.55)(88,-.5)(87.4,-.25)}
\lv{c2}{(95.2,.1)(96,.45)(97.5,.6)(98.5,.55)(99.5,.4)(101,.35)(102,.3)(103,.4)(104,.5)(105,.6)(106.2,.4)(106.6,.1)(106.5,-.3)(105.5,-.8)(104.5,-.8)(103.6,-.55)(102,-.45)(100,-.45)(98,-.55)(96.5,-.55)(95.8,-.35)(95.2,-.1)}
\lv{c2}{(108.1,.3)(108.5,.7)(109.5,.7)(110.5,.4)(111,.1)(110.8,-.5)(109,-.55)(108.4,-.5)(108.1,-.15)}
\lv{c3}{(87.5,.25)(88.5,.35)(90,.45)(91,.35)(92,.2)(92.5,.05)(92.3,-.2)(90.5,-.35)(89,-.4)(88,-.35)(87.5,-.15)}
\lv{c3}{(95.4,.05)(96.5,.35)(98,.45)(99,.35)(101,.25)(103,.3)(105,.45)(106,.35)(106.5,.05)(106.2,-.35)(105,-.5)(103.6,-.4)(102,-.35)(100,-.35)(98,-.45)(96.5,-.4)(95.5,-.15)}
\lv{c3}{(108.4,.3)(108.8,.6)(109.5,.55)(110.5,.3)(111,.08)(110.7,-.3)(109.5,-.45)(108.5,-.3)}
\lv{c4}{(88,.1)(89,.2)(90,.35)(90.8,.2)(91.7,.05)(91.5,-.15)(90.5,-.3)(89,-.25)(88,-.2)}
\lv{c4}{(96.5,.1)(97.5,.3)(98.5,.35)(99.5,.15)(101.5,.1)(103,.2)(104.5,.35)(106,.25)(106.3,0)(106,-.25)(104.5,-.38)(103,-.25)(100.5,-.2)(98.5,-.35)(97,-.25)(96.5,-.1)}
\lv{c4}{(108.6,.25)(109,.45)(110,.3)(110.8,.1)(110.6,-.2)(109.5,-.3)(108.8,-.25)}
\lv{c5}{(89.5,.2)(90.3,.25)(90.5,0)(90.4,-.2)(89.7,-.2)}
\lv{c5}{(97.2,.15)(98,.25)(99,.2)(99,-.25)(97.5,-.25)}
\lv{c5}{(102.5,.1)(103.3,.12)(103.5,-.2)(102.7,-.25)}
\lv{c5}{(104,.2)(105.5,.25)(106.3,.1)(106,-.22)(104,-.25)}
\lv{c5}{(108.7,.2)(109,.4)(110,.25)(110.7,.05)(110.5,-.15)(109,-.15)}
\lv{c6}{(97.5,.1)(98.5,.15)(98.8,-.15)(97.6,-.2)}
\lv{c6}{(102.7,.05)(103.3,.05)(103.3,-.2)(102.8,-.2)}
\lv{c6}{(104.3,.1)(106,.1)(106,-.15)(104.3,-.2)}
\lv{c6}{(108.9,.25)(109.6,.2)(110.4,.05)(110.4,-.1)(109,-.1)}
\lv{c7}{(97.7,.05)(98.5,.07)(98.5,-.05)(97.7,-.05)}
\lv{c7}{(102.8,.02)(103.3,.02)(103.3,-.05)(102.8,-.05)}
\lv{c7}{(104.5,.05)(106,.05)(106,-.05)(104.5,-.05)}
\lv{c7}{(109.2,.15)(109.9,.12)(110.4,.02)(109.2,-.02)}
\sk{1.4}{2.5}{(90,1.35)(90,.95)(89.8,.9)(90.7,.95)(92,.8)(93.5,.85)(93.7,.85)(96,.9)(96.5,.9)(97.3,1.0)(97.8,1.1)(98,1.0)(99.5,1.15)(98.5,.85)(102.7,1.35)(103.1,1.4)(103,1.25)(104.3,1.3)(104.6,1.4)(105,1.1)(106,1.1)(106.7,.65)(107,2.1)(107.2,2.05)(107.2,1.75)(107.2,1.5)(106.8,1.4)(107.2,1.35)(107.7,1.3)(109,1.3)(109.5,1.1)(108.7,1.1)(109.3,1.15)(108,1)(97.5,-1.15)(98.7,-1.2)(99.2,-1.25)(99.8,-1.2)(102,-1.05)(101.5,-1)(104,-1.1)(104.5,-1.2)(104.5,-1.35)(105.5,-1.3)(106,-1.2)(105.2,-1)(106,-1)(104.1,-1.65)(104.6,-1.0)(108,-1.4)(108,-2.3)(110,-1.5)(110,-1.7)(110.5,-1.6)(110.7,-1.5)(110,-1.85)(110.6,-1.85)(109.5,-1.55)(110.3,-1.75)(109.3,-1.2)(110.5,-1.2)(110.7,-1)(109.5,-1)(108.3,-1.1)(93,-.9)(93.8,-.9)(95.4,-.9)}
\zf{85}{113}{(87.2,-.1)(111,.08)}{}
\nb{Slope = 0.0078}{B14}
\end{axis}
\begin{axis}[twin,td=1.14,at={(1967pt,3871pt-2889pt)},xmin=278.63,xmax=296.73,ymin=-1.64,ymax=1.64,
  xtick={280,285,290,295},xticklabels={280,285,290,295},
  ytick={-1,0,1},yticklabels={−1,0,1},minor y tick num=4]\end{axis}
\cb{3202}{2889}{3.18}{0,1,2,3}{\cbm}
% B15
\begin{axis}[main,rd=-.151,at={(195pt,3871pt-3711pt)},xmin=95,xmax=120,ymin=-3.6,ymax=3.6,
  xtick={95,100,105,110,115,120},xticklabels={95,100,105,110,115,120},
  ytick={-2,0,2},yticklabels={−2,0,2},minor y tick num=3]
\la{(98.5,.4)(99,1.0)(99.7,1.3)(100.5,1.05)(101.5,1.3)(102,1.4)(103,1.3)(104,1.0)(104.7,.8)(105,.2)(105.4,.9)(105.8,1.35)(107,1.35)(108,1.2)(108.7,1.4)(109,1.75)(110,1.75)(110.5,1.35)(111.5,1.2)(112.5,1.05)(113.5,1.1)(114,1.45)(115,1.4)(115.5,1.6)(117,1.4)(117.5,1.2)(118,1.0)(118.5,.6)(118.7,-.2)(118.6,-.9)(118.3,-1.0)(118,-1.9)(117.5,-1.9)(117,-1.0)(116,-1.0)(115,-1.1)(113.5,-1.1)(112,-1.05)(111,-1.1)(110.3,-1.8)(109.8,-1.8)(109.5,-1.2)(108,-1.05)(107,-1.0)(106,-.75)(105.5,-.3)(105,-.5)(104.8,-.9)(103.8,-1.15)(103,-1.2)(102,-.95)(101.5,-.7)(100.5,-.8)(99.5,-.9)(99,-.7)(98.5,-.25)}
\lv{c2}{(98.7,.5)(99.2,1)(100.5,.95)(102,1.1)(103,1)(104,.9)(104.5,.6)(104.7,-.3)(104.2,-.7)(103,-.85)(102,-.75)(101.5,-.55)(100,-.65)(99.1,-.6)(98.7,-.2)}
\lv{c2}{(105.7,.6)(106,1)(107,1.15)(108.5,1.2)(109.2,1.4)(110,1.3)(110.8,1.1)(112,1)(113,.95)(114,1.1)(115,1.15)(116.5,1.2)(117.5,1)(118.5,.5)(118.7,-.1)(118.5,-.7)(118,-1.1)(117.5,-1.1)(117,-.8)(116,-.7)(114,-.7)(112,-.8)(110.5,-.9)(110.3,-1.5)(109.9,-1.5)(109.6,-.9)(108,-.85)(107,-.8)(106,-.55)(105.7,-.2)}
\lv{c3}{(98.9,.45)(99.5,.8)(102,.9)(103.5,.75)(104.3,.4)(104.4,-.2)(103.5,-.55)(102,-.6)(100,-.5)(99.3,-.45)(98.8,-.1)}
\lv{c3}{(105.9,.5)(106.5,.9)(108.5,1)(109.5,1.1)(111,.9)(113,.8)(114,.9)(116,1)(117.5,.9)(118.4,.4)(118.6,-.1)(118.2,-.55)(117,-.7)(114,-.6)(112,-.7)(110,-.65)(108,-.65)(106.5,-.55)(105.9,-.2)}
\lv{c4}{(99.2,.4)(100,.65)(101.5,.75)(102.5,.7)(103.5,.55)(104.1,.25)(104,-.2)(103,-.45)(102,-.5)(100.5,-.38)(99.4,-.3)}
\lv{c4}{(106.3,.4)(107,.75)(108.5,.85)(109.5,.9)(111,.7)(112.5,.7)(114,.75)(116,.85)(117.5,.85)(118.2,.4)(118.5,0)(118,-.5)(115,-.5)(112,-.55)(110,-.5)(108,-.55)(106.5,-.35)}
\lv{c5}{(99.7,.3)(100.5,.5)(102,.55)(103,.45)(103.5,.2)(103,-.25)(102,-.35)(100.5,-.2)(99.8,0)}
\lv{c5}{(106.8,.3)(107.5,.6)(108.5,.8)(110,.7)(112.5,.6)(114.5,.65)(116,.75)(117.5,.85)(118.2,.4)(118.4,0)(118,-.3)(115,-.35)(112,-.4)(110,-.4)(108,-.35)(106.8,-.1)}
\lv{c6}{(101.5,.35)(102.3,.35)(102.5,-.2)(101.7,-.2)}
\lv{c6}{(107,.3)(107.8,.3)(108,.65)(108.5,.65)(108.5,-.15)(107,-.05)}
\lv{c6}{(109,.4)(110.5,.45)(111,.3)(112,.35)(113,.45)(113.3,.05)(113.4,-.35)(112,-.35)(111.5,-.1)(110,-.2)(109,-.05)}
\lv{c6}{(114,.4)(115,.5)(116.3,.55)(117,.85)(117.6,.7)(118.3,.3)(118.3,-.15)(116,-.1)(115.5,-.3)(114.5,-.3)(114,0)}
\lv{c7}{(108.2,.6)(108.5,.6)(108.5,-.2)(108.2,-.2)}
\lv{c7}{(109.2,.3)(110.5,.35)(110.5,.05)(109.2,.05)}
\lv{c7}{(112,.35)(113,.35)(113.2,-.25)(112.3,-.25)}
\lv{c7}{(114.4,.3)(116,.35)(116.7,.6)(117.5,.6)(118.2,.25)(117,.15)(115.6,.1)(115.5,-.2)(114.7,-.2)}
\lv{c8}{(116.6,.5)(117.4,.5)(117.4,.3)(116.6,.3)}
\lv{c8}{(112.3,.25)(112.9,.25)(112.9,-.2)(112.3,-.2)}
\lv{c8}{(108.25,.3)(108.45,.3)(108.45,-.05)(108.25,-.05)}
\lv{c8}{(115,.2)(115.4,.2)(115.4,-.1)(115,-.1)}
\sk{1.4}{2.5}{(113.6,2.9)(113.9,2.95)(113.8,2.55)(114,2.35)(116.2,2.35)(114.3,2.05)(115,2.0)(114.3,1.9)(113.7,1.95)(115,1.85)(115.8,1.9)(116.2,1.9)(105.5,2.05)(105.5,1.65)(107.7,1.7)(109,1.9)(109.5,1.85)(108.5,1.6)(110.5,1.85)(111.5,1.7)(112,1.6)(112.8,1.5)(100,1.55)(99.9,1.7)(101.7,1.65)(103,1.6)(103.5,1.55)(99.8,1.4)(100.5,-1.25)(102.5,-1.25)(103.8,-1.45)(103,-1.25)(108.3,-1.4)(108.4,-1.6)(109,-1.7)(109.5,-1.9)(110,-2)(110.3,-2.1)(109.5,-2.0)(109.8,-2.2)(110,-2.4)(110.4,-2.0)(109.9,-2.6)(110,-2.8)(110.3,-3.1)(110.6,-3.2)(110,-3.4)(109.4,-3.3)(110,-3.5)(109.7,-3.55)(112.9,-1.7)(113.2,-1.6)(114.5,-1.9)(115.2,-1.8)(115,-1.6)(115.5,-2)(117,-1.6)(116.5,-1.5)(117.5,-2)(117.8,-2.1)(118,-2.2)(118.3,-2.2)(117.5,-2.4)(117.7,-2.6)(117.9,-2.8)(118,-2.5)(117.8,-3)(117.6,-3.15)(117.9,-3.35)(117.9,-3.5)(117.3,-3.55)(116.4,-3.3)(116.8,-2.5)(116.9,-2.7)(117.3,-2.5)(114.2,-2.8)(118.6,-2.15)}
\zf{95}{120}{(98.5,.05)(118.7,.24)}{}
\nb{Slope = 0.0088}{B15}
\end{axis}
\begin{axis}[twin,td=1.143,at={(195pt,3871pt-3711pt)},xmin=277.13,xmax=293.04,ymin=-2.05,ymax=2.05,
  xtick={277.5,280,282.5,285,287.5,290,292.5},xticklabels={277.5,280.0,282.5,285.0,287.5,290.0,292.5},
  ytick={-2,-1,0,1,2},yticklabels={−2,−1,0,1,2},minor y tick num=4]\end{axis}
\cb{1431}{3711}{3.05}{0,1,2,3}{\cbm}
% B16
\begin{axis}[main,rd=-.178,at={(1974pt,3871pt-3696pt)},xmin=70,xmax=105,ymin=-15.2,ymax=15.2,
  xtick={70,75,80,85,90,95,100,105},xticklabels={70,75,80,85,90,95,100,105},
  ytick={-10,0,10},yticklabels={−10,0,10},minor y tick num=4]
\la{(91.8,3.2)(92.5,5)(93,5.5)(93.7,3.8)(94,4)(94.7,6)(95,8)(95.5,8)(95.8,6)(96.5,5)(97,4.5)(97.5,5.5)(98.5,5)(99,4.5)(99.5,5.5)(100,5)(101,4.5)(102,4)(102,-6.5)(101.3,-9.8)(100.5,-10.5)(100,-7)(99,-7)(98,-6.5)(97.3,-10)(96.9,-14)(96.2,-14)(96,-10)(95.5,-8)(94.5,-7.5)(93.5,-7.5)(92.7,-7)(92,-5)(91.8,-4)}
\lv{c2}{(92,3.2)(92.6,3.8)(97,3.8)(98,3.6)(100,4)(102,3.8)(102,-5.5)(101.2,-6.5)(100,-6)(98,-6)(97,-7.5)(96.9,-12)(96.3,-12)(96,-7)(95,-6.5)(94,-6)(93,-5.5)(92.5,-4.5)(92,-3.5)}
\lv{c3}{(92,2.8)(94,3)(95,3.4)(102,3.2)(102,-5.2)(100,-5.2)(97.5,-5.5)(97,-6)(96.9,-9)(96.3,-9)(96,-6)(95,-5)(94,-5)(93,-4.5)(92.2,-4)(92,-3)}
\lv{c4}{(92.1,2.4)(94,2.5)(95,2.7)(102,2.7)(102,-4.5)(95,-4.2)(94,-3.5)(92.2,-3.3)}
\lv{c5}{(95,1.9)(102,2)(102,-3.4)(95,-3.1)}
\lv{c5}{(92.3,1.5)(93.1,1.5)(93.1,-2.5)(92.3,-2.5)}
\lv{c5}{(93.4,.8)(94,.8)(94,-2.3)(93.4,-2.3)}
\lv{c5}{(94.4,1.2)(94.9,1.2)(94.9,-2.5)(94.4,-2.5)}
\lv{c6}{(95,1.2)(95.7,1.2)(95.7,-2.7)(95,-2.7)}
\lv{c6}{(96,1)(96.5,1)(96.5,-2.5)(96,-2.5)}
\lv{c6}{(96.9,1.3)(97.5,1.3)(97.5,-2.7)(96.9,-2.7)}
\lv{c6}{(98,1.3)(98.4,1.2)(98.4,-2.5)(98,-2.5)}
\lv{c6}{(98.8,1.5)(99.6,1.5)(99.6,-3)(98.8,-3)}
\lv{c6}{(99.9,1.6)(100.5,1.6)(100.5,-3)(99.9,-3)}
\lv{c6}{(100.8,1.7)(101.8,1.7)(101.9,-3)(100.8,-3)}
\lv{c7}{(95.1,.4)(95.6,.4)(95.6,-1.8)(95.1,-1.8)}
\lv{c7}{(97,.5)(97.4,.5)(97.4,-2)(97,-2)}
\lv{c7}{(98.9,.9)(99.5,.9)(99.5,-2.3)(98.9,-2.3)}
\lv{c7}{(100,1)(100.4,1)(100.4,-2.3)(100,-2.3)}
\lv{c7}{(100.9,1)(101.7,1)(101.7,-2.4)(100.9,-2.4)}
\lv{c7}{(96.1,0)(96.4,0)(96.4,-1.5)(96.1,-1.5)}
\lv{c7}{(98.1,.2)(98.3,.2)(98.3,-1.5)(98.1,-1.5)}
\lv{c8}{(99,.3)(99.4,.3)(99.4,-1.7)(99,-1.7)}
\lv{c8}{(101,.3)(101.5,.3)(101.5,-1.8)(101,-1.8)}
\lv{c8}{(100.05,.2)(100.35,.2)(100.35,-1.5)(100.05,-1.5)}
\sk{1.6}{3.6}{(73.7,3.2)(73.2,2.1)(73.4,2.1)(73.5,1.3)(73.6,.9)(73.9,1)(74.1,1)(73.5,.5)(73.2,.2)(73.6,.2)(73.8,.2)(73.4,-.2)(73.7,-.2)(73.5,-.7)(73.8,-.7)(74.1,-.7)(73.4,-1)(73.2,-1.5)(73.4,-1.9)(74.3,-2.6)(73.7,-1.2)(89.9,3.2)(89.2,2.1)(89.7,1.4)(90.1,1.4)(89.5,1)(90.5,1)(89.8,.7)(90.2,.7)(90.6,.5)(91,.3)(89.9,.2)(90.3,.2)(89.6,-.3)(90,-.5)(90.3,-.5)(89.6,-1)(90,-1)(90.4,-1.3)(90.8,-1.5)(89.8,-1.6)(89.6,-2.3)(90,-2.6)(89.8,-2.7)(90.3,-1.9)(91.3,-11.9)(91,-12.9)(92.5,-13.3)(92.7,-11.7)(92.7,-10.3)(92.6,-8.8)(94.2,-13.2)(94.5,-12.3)(95,-11.3)(94.4,-10.7)(94.8,-10.5)(93.8,-9.6)(94.4,-9.3)(95,-9)(93.8,-8.8)(94.3,-8.3)(95.3,-9.5)(94.8,-8.2)(95.5,-11.5)(98.2,-12.5)(98.2,-9.8)(98.4,-9)(98.8,-7.8)(100.5,-12)(101.3,-12.6)(101.8,-11.7)(100.5,-13.7)(100.9,-14)(96.4,-14.7)(96.7,-15)(96.1,-14.4)(99.5,6.5)(96,8)(95.5,7)(96,7)(92.8,6.2)(101.5,5.5)(101,5)(97.8,5.3)(96.2,5.5)(97.5,-9)(97.5,-8)(98,-9.5)(98.5,-9)(97.7,-10.8)(98,-11)(100,-9)(100.2,-8)(100.8,-10.5)(101,-11)}
\zf{70}{105}{(73.2,.45)(102.1,-1.2)}{}
\nb{Slope = -0.0558}{B16}
\end{axis}
\begin{axis}[twin,td=1.145,at={(1974pt,3871pt-3696pt)},xmin=252.07,xmax=277.81,ymin=-8.7,ymax=8.7,
  xtick={255,260,265,270,275},xticklabels={255,260,265,270,275},
  ytick={-5,0,5},yticklabels={−5,0,5},minor y tick num=4]\end{axis}
\cb{3210}{3696}{3.62}{0,1,2,3}{\cbm}
\end{tikzpicture}
\end{document}
